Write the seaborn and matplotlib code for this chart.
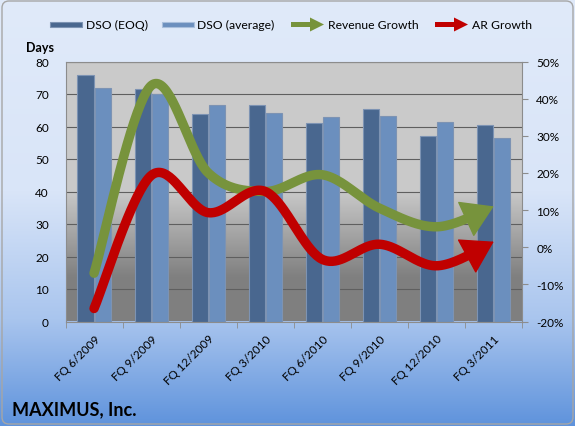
import numpy as np
import pandas as pd
import matplotlib
matplotlib.use("Agg")
import matplotlib.pyplot as plt
import seaborn as sns
from matplotlib.colors import LinearSegmentedColormap
from matplotlib.patches import FancyArrow, FancyBboxPatch, Rectangle

## Données

quarters = ["FQ 6/2009", "FQ 9/2009", "FQ 12/2009", "FQ 3/2010",
            "FQ 6/2010", "FQ 9/2010", "FQ 12/2010", "FQ 3/2011"]
dso_eoq = [76, 71.5, 64, 66.5, 61.2, 65.5, 57.2, 60.6]
dso_avg = [71.8, 70, 66.6, 64.3, 63, 63.1, 61.4, 56.5]
revenue_growth = [-7, 43.5, 20, 15, 19.5, 10.5, 5.5, 11]
ar_growth = [-16.5, 19.3, 9.3, 15, -3.3, 0.8, -5, 1.5]

couleur_eoq = "#49678f"
couleur_avg = "#6b8fbe"
vert = "#77933c"
rouge = "#c00000"

plt.rcParams["font.family"] = ["Lato", "DejaVu Sans"]

W, H = 575, 427


def lissage(ys, n=40):
    '''
    Courbe lissée (type Catmull-Rom) passant par les points, comme les lignes lissées d'Excel.
    '''
    pts = np.column_stack([np.arange(len(ys), dtype=float), np.asarray(ys, dtype=float)])
    pad = np.vstack([pts[0], pts, pts[-1]])
    t = np.linspace(0, 1, n, endpoint=False)[:, None]
    morceaux = []
    for i in range(len(pts) - 1):
        p0, p1, p2, p3 = pad[i:i + 4]
        c = 0.5 * ((2 * p1) + (-p0 + p2) * t + (2 * p0 - 5 * p1 + 4 * p2 - p3) * t ** 2
                   + (-p0 + 3 * p1 - 3 * p2 + p3) * t ** 3)
        morceaux.append(c)
    morceaux.append(pts[-1][None, :])
    c = np.vstack(morceaux)
    return c[:, 0], c[:, 1]


fig = plt.figure(figsize=(W / 100, H / 100), dpi=100)

# Fond dégradé bleu de la figure (axes en coordonnées pixels)
fond = fig.add_axes([0, 0, 1, 1], zorder=-2)
cmap_fig = LinearSegmentedColormap.from_list(
    "fig", [(0, "#e0eafa"), (0.45, "#d9e5f8"), (0.75, "#a9c5ee"), (1, "#5f93dc")])
fond.imshow(np.linspace(0, 1, 256)[:, None], aspect="auto", cmap=cmap_fig, extent=[0, W, H, 0])
fond.add_patch(FancyBboxPatch((2, 2), W - 4, H - 4, boxstyle="round,pad=0,rounding_size=7",
                              fill=False, edgecolor="#a6a6a6", lw=1))
fond.set_xlim(0, W)
fond.set_ylim(H, 0)
fond.axis("off")

# Légende dessinée à la main en haut
y_leg = 25.5
fond.add_patch(Rectangle((50, y_leg - 2.5), 32, 5, facecolor=couleur_eoq, edgecolor="#7d93b3", lw=0.8))
fond.text(86, y_leg, "DSO (EOQ)", va="center", ha="left", fontsize=8.7)
fond.add_patch(Rectangle((162, y_leg - 2.5), 32, 5, facecolor=couleur_avg, edgecolor="#a9bfdc", lw=0.8))
fond.text(197, y_leg, "DSO (average)", va="center", ha="left", fontsize=8.7)
fond.add_patch(FancyArrow(291, y_leg, 33, 0, width=5, head_width=14, head_length=14,
                          length_includes_head=True, color=vert, lw=0))
fond.text(328, y_leg, "Revenue Growth", va="center", ha="left", fontsize=8.7)
fond.add_patch(FancyArrow(435, y_leg, 33, 0, width=5, head_width=14, head_length=14,
                          length_includes_head=True, color=rouge, lw=0))
fond.text(472, y_leg, "AR Growth", va="center", ha="left", fontsize=8.7)

fond.text(40, 47.5, "Days", ha="center", va="center", fontsize=9, fontweight="bold")
fond.text(12, 410, "MAXIMUS, Inc.", ha="left", va="center", fontsize=13, fontweight="bold")

pos = [65.5 / W, 1 - 322.5 / H, (522.3 - 65.5) / W, (322.5 - 62.5) / H]

# Fond gris dégradé de la zone de tracé
zone = fig.add_axes(pos, zorder=-1)
cmap_zone = LinearSegmentedColormap.from_list(
    "zone", [(0, "#cbcbcb"), (0.5, "#c9c9c9"), (0.83, "#808080"), (1, "#7f7f7f")])
zone.imshow(np.linspace(0, 1, 256)[:, None], aspect="auto", cmap=cmap_zone, extent=[0, 1, 0, 1])
zone.set_xlim(0, 1)
zone.set_ylim(0, 1)
zone.axis("off")

ax = fig.add_axes(pos)
ax.set_facecolor("none")

df = pd.DataFrame({
    "Trimestre": quarters * 2,
    "Série": ["DSO (EOQ)"] * len(quarters) + ["DSO (average)"] * len(quarters),
    "Jours": dso_eoq + dso_avg,
})
sns.barplot(data=df, x="Trimestre", y="Jours", hue="Série", palette=[couleur_eoq, couleur_avg],
            width=0.6, gap=0.06, saturation=1, edgecolor="#7d93b3", linewidth=0.8,
            legend=False, ax=ax, zorder=2)

ax.set_xlim(-0.5, len(quarters) - 0.5)
ax.set_ylim(0, 80)
ax.set_yticks(range(0, 81, 10))
ax.yaxis.grid(True, color="#5f5f5f", lw=0.8)
ax.set_axisbelow(True)
ax.set_xlabel("")
ax.set_ylabel("")
ax.set_xticks(range(len(quarters)))
ax.set_xticklabels(quarters, rotation=45, ha="right", rotation_mode="anchor", fontsize=8.5)
ax.set_xticks(np.arange(-0.5, len(quarters)), minor=True)
ax.tick_params(axis="x", which="major", length=0, pad=8)
ax.tick_params(axis="x", which="minor", length=4, color="#8c8c8c")
ax.tick_params(axis="y", length=0, labelsize=8.5, pad=12)
for s in ["left", "bottom", "top"]:
    ax.spines[s].set_color("#8c8c8c")
ax.spines["right"].set_visible(False)

# Axe secondaire pour les taux de croissance
ax2 = ax.twinx()
ax2.set_ylim(-20, 50)
ax2.set_yticks(range(-20, 51, 10))
ax2.set_yticklabels([f"{v}%" for v in range(-20, 51, 10)])
ax2.tick_params(axis="y", length=4, color="#8c8c8c", labelsize=8.5, pad=6)
for s in ["left", "bottom", "top"]:
    ax2.spines[s].set_visible(False)
ax2.spines["right"].set_color("#8c8c8c")

for serie, couleur in [(revenue_growth, vert), (ar_growth, rouge)]:
    xs, ys = lissage(serie)
    fin = xs <= len(serie) - 1.36
    ax2.plot(xs[fin], ys[fin], color=couleur, lw=6.8, solid_capstyle="round", zorder=3)
    base = np.argmax(xs >= len(serie) - 1.4)
    ax2.annotate("", xy=(xs[-1], ys[-1]), xytext=(xs[base], ys[base]),
                 arrowprops=dict(arrowstyle="-|>,head_length=0.8,head_width=0.5",
                                 mutation_scale=26, color=couleur, lw=1,
                                 shrinkA=0, shrinkB=0), zorder=4)

fig.savefig("out.png", dpi=100)
